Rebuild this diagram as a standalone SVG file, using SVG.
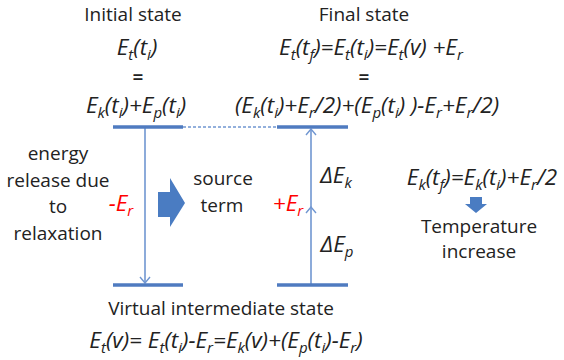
<svg xmlns="http://www.w3.org/2000/svg" width="564" height="360" viewBox="0 0 564 360">
<defs>
<style>
text{font-family:"Open Sans","Liberation Sans",sans-serif;fill:#222222;font-size:19px}
.m{font-style:italic;text-anchor:middle;font-size:22.5px}
.eq{text-anchor:middle;font-size:19px;font-weight:600}
.c{text-anchor:middle}
.s{font-size:15px}
.red{fill:#ff0000}
.lvl{stroke:#4F7BC0;stroke-width:3.5;fill:none}
.thin{stroke:#7096D1;stroke-width:1.6;fill:none}
.blk{fill:#4A7CC2}
</style>
<marker id="chev" markerUnits="userSpaceOnUse" markerWidth="8" markerHeight="12" viewBox="0 0 8 12" refX="7" refY="6" orient="auto">
<path d="M1,1 L7,6 L1,11" fill="none" stroke="#7096D1" stroke-width="1.4"/>
</marker>
</defs>
<rect width="564" height="360" fill="#ffffff"/>

<g id="connectors">
<line class="thin" x1="183" y1="127" x2="278" y2="127" stroke-dasharray="3,2"/>
<line class="thin" x1="145" y1="128" x2="145" y2="283" marker-end="url(#chev)"/>
<path class="thin" d="M311,284 L311,207 L311,129" marker-mid="url(#chev)" marker-end="url(#chev)"/>
</g>

<g id="initial-state">
<line class="lvl" x1="113" y1="127" x2="183" y2="127"/>
<text class="c" x="133" y="21">Initial state</text>
<text class="m" x="137" y="55">E<tspan class="s" dy="5">t</tspan><tspan dy="-5">(t</tspan><tspan class="s" dy="5">i</tspan><tspan dy="-5">)</tspan></text>
<text class="eq" x="138" y="84">=</text>
<text class="m" x="136" y="113">E<tspan class="s" dy="5">k</tspan><tspan dy="-5">(t</tspan><tspan class="s" dy="5">i</tspan><tspan dy="-5">)+E</tspan><tspan class="s" dy="5">p</tspan><tspan dy="-5">(t</tspan><tspan class="s" dy="5">i</tspan><tspan dy="-5">)</tspan></text>
</g>

<g id="final-state">
<line class="lvl" x1="277" y1="127" x2="348" y2="127"/>
<text class="c" x="364" y="21">Final state</text>
<text class="m" x="371" y="55">E<tspan class="s" dy="5">t</tspan><tspan dy="-5">(t</tspan><tspan class="s" dy="5">f</tspan><tspan dy="-5">)=E</tspan><tspan class="s" dy="5">t</tspan><tspan dy="-5">(t</tspan><tspan class="s" dy="5">i</tspan><tspan dy="-5">)=E</tspan><tspan class="s" dy="5">t</tspan><tspan dy="-5">(v) +E</tspan><tspan class="s" dy="5">r</tspan></text>
<text class="eq" x="364" y="84">=</text>
<text class="m" x="367" y="113">(E<tspan class="s" dy="5">k</tspan><tspan dy="-5">(t</tspan><tspan class="s" dy="5">i</tspan><tspan dy="-5">)+E</tspan><tspan class="s" dy="5">r</tspan><tspan dy="-5">/2)+(E</tspan><tspan class="s" dy="5">p</tspan><tspan dy="-5">(t</tspan><tspan class="s" dy="5">i</tspan><tspan dy="-5">) )-E</tspan><tspan class="s" dy="5">r</tspan><tspan dy="-5">+E</tspan><tspan class="s" dy="5">r</tspan><tspan dy="-5">/2)</tspan></text>
</g>

<g id="virtual-state">
<line class="lvl" x1="113" y1="285" x2="183" y2="285"/>
<line class="lvl" x1="277" y1="285" x2="348" y2="285"/>
<text class="c" x="221" y="315">Virtual intermediate state</text>
<text class="m" x="226" y="348">E<tspan class="s" dy="5">t</tspan><tspan dy="-5">(v)= E</tspan><tspan class="s" dy="5">t</tspan><tspan dy="-5">(t</tspan><tspan class="s" dy="5">i</tspan><tspan dy="-5">)-E</tspan><tspan class="s" dy="5">r</tspan><tspan dy="-5">=E</tspan><tspan class="s" dy="5">k</tspan><tspan dy="-5">(v)+(E</tspan><tspan class="s" dy="5">p</tspan><tspan dy="-5">(t</tspan><tspan class="s" dy="5">i</tspan><tspan dy="-5">)-E</tspan><tspan class="s" dy="5">r</tspan><tspan dy="-5">)</tspan></text>
</g>

<g id="relaxation-label">
<text class="c" x="58" y="160">energy</text>
<text class="c" x="58" y="187">release due</text>
<text class="c" x="58" y="213">to</text>
<text class="c" x="58" y="240">relaxation</text>
<text class="m red" x="121" y="211">-E<tspan class="s" dy="5">r</tspan></text>
</g>

<g id="source-term">
<path class="blk" d="M158,192 L170,192 L170,178 L185,203 L170,227 L170,217 L158,217 Z"/>
<text class="c" x="223" y="185">source</text>
<text class="c" x="222" y="212">term</text>
<text class="m red" x="288" y="211">+E<tspan class="s" dy="5">r</tspan></text>
</g>

<g id="deltas">
<text class="m" x="336" y="183">ΔE<tspan class="s" dy="5">k</tspan></text>
<text class="m" x="337" y="252">ΔE<tspan class="s" dy="5">p</tspan></text>
</g>

<g id="temperature">
<text class="m" x="482" y="185">E<tspan class="s" dy="5">k</tspan><tspan dy="-5">(t</tspan><tspan class="s" dy="5">f</tspan><tspan dy="-5">)=E</tspan><tspan class="s" dy="5">k</tspan><tspan dy="-5">(t</tspan><tspan class="s" dy="5">i</tspan><tspan dy="-5">)+E</tspan><tspan class="s" dy="5">r</tspan><tspan dy="-5">/2</tspan></text>
<path class="blk" d="M470,197 L482,197 L482,204 L487,204 L476,213 L465,204 L470,204 Z"/>
<text class="c" x="479" y="233">Temperature</text>
<text class="c" x="479" y="258">increase</text>
</g>
</svg>
